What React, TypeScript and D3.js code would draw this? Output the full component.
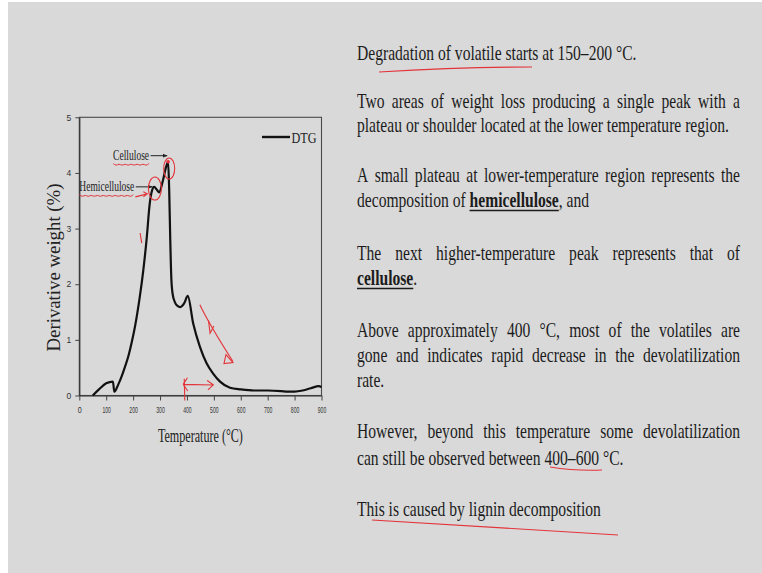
import React, { useEffect, useRef } from "react";
import * as d3 from "d3";

// DTG curve (temperature in °C, derivative weight in %)
const temps = [50, 75, 100, 125, 130, 145, 157, 170, 182, 195, 207, 225, 238, 250, 262, 270, 278, 288, 297, 310, 322, 330, 334, 338, 342, 347, 355, 365, 375, 390, 403, 423, 448, 473, 498, 523, 560, 600, 650, 700, 750, 775, 800, 830, 860, 890, 900];
const dtg = [0, 0.12, 0.22, 0.25, 0.07, 0.2, 0.34, 0.52, 0.7, 0.96, 1.24, 1.78, 2.26, 2.8, 3.46, 3.68, 3.75, 3.7, 3.65, 3.85, 4.1, 4.2, 3.7, 2.8, 2.1, 1.82, 1.68, 1.61, 1.59, 1.66, 1.79, 1.3, 0.88, 0.58, 0.39, 0.25, 0.14, 0.11, 0.09, 0.09, 0.08, 0.07, 0.07, 0.09, 0.13, 0.17, 0.15];

const xTicks = [0, 100, 200, 300, 400, 500, 600, 700, 800, 900];
const yTicks = [0, 1, 2, 3, 4, 5];
const seriesName = "DTG";
const xTitle = "Temperature (°C)";
const yTitle = "Derivative weight (%)";

// peak call-outs
const peakNames = ["Cellulose", "Hemicellulose"];
const peakTemps = [330, 275];
const peakValues = [4.31, 3.75];
const peakLabelWidths = [36, 55];

// slide text (words wrapped in *...* are bold + underlined)
const textLines = [
  "Degradation of volatile starts at 150–200 °C.",
  "Two areas of weight loss producing a single peak with a",
  "plateau or shoulder located at the lower temperature region.",
  "A small plateau at lower-temperature region represents the",
  "decomposition of *hemicellulose*, and",
  "The next higher-temperature peak represents that of",
  "*cellulose*.",
  "Above approximately 400 °C, most of the volatiles are",
  "gone and indicates rapid decrease in the devolatilization",
  "rate.",
  "However, beyond this temperature some devolatilization",
  "can still be observed between 400–600 °C.",
  "This is caused by lignin decomposition",
];
const justified = [false, true, false, true, false, true, false, true, true, false, true, false, false];
const baselines = [60, 108, 132, 182, 207, 260, 285, 337, 362, 387, 438, 465, 516];

const SERIF = "'Liberation Serif', 'Times New Roman', serif";
const SANS = "'Liberation Sans', Arial, sans-serif";
const RED = "#e3343a";

const App = () => {
  const svgRef = useRef<SVGSVGElement>(null);

  useEffect(() => {
    const svg = d3.select(svgRef.current);
    svg.selectAll("*").remove();

    const width = 762;
    const height = 573;
    const plot = { left: 79.3, right: 321.5, top: 117.3, bottom: 395.5 };

    svg.append("rect").attr("width", width).attr("height", height).attr("fill", "#fff");
    svg.append("rect").attr("x", 8).attr("y", 2).attr("width", width - 8).attr("height", height - 2).attr("fill", "#d9d9d9");

    const x = d3.scaleLinear().domain([0, 900]).range([plot.left, plot.right]);
    const y = d3.scaleLinear().domain([0, 5]).range([plot.bottom, plot.top]);

    // frame
    svg.append("rect")
      .attr("x", plot.left).attr("y", plot.top)
      .attr("width", plot.right - plot.left).attr("height", plot.bottom - plot.top)
      .attr("fill", "none").attr("stroke", "#4a4a4a").attr("stroke-width", 1.1);

    const xAxis = svg.append("g").attr("transform", `translate(0,${plot.bottom})`)
      .call(d3.axisBottom(x).tickValues(xTicks).tickFormat(d3.format("d")).tickSize(5).tickSizeOuter(0).tickPadding(6));
    xAxis.selectAll("text")
      .attr("font-family", SANS).attr("font-size", 9.5).attr("fill", "#333")
      .attr("lengthAdjust", "spacingAndGlyphs")
      .attr("textLength", (d: any) => (String(d).length === 1 ? 4 : 8.5));

    const yAxis = svg.append("g").attr("transform", `translate(${plot.left},0)`)
      .call(d3.axisLeft(y).tickValues(yTicks).tickFormat(d3.format("d")).tickSize(4).tickSizeOuter(0).tickPadding(4));
    yAxis.selectAll("text").attr("font-family", SANS).attr("font-size", 8.5).attr("fill", "#333");

    [xAxis, yAxis].forEach(a => {
      a.select(".domain").attr("stroke", "#333").attr("stroke-width", 1.2);
      a.selectAll(".tick line").attr("stroke", "#444");
    });

    svg.append("text")
      .attr("x", (plot.left + plot.right) / 2).attr("y", 442)
      .attr("text-anchor", "middle").attr("font-family", SERIF).attr("font-size", 18).attr("fill", "#222")
      .attr("textLength", 85).attr("lengthAdjust", "spacingAndGlyphs")
      .text(xTitle);

    svg.append("text")
      .attr("transform", "translate(60,267.5) rotate(-90)")
      .attr("text-anchor", "middle").attr("font-family", SERIF).attr("font-size", 19).attr("fill", "#222")
      .attr("textLength", 168).attr("lengthAdjust", "spacingAndGlyphs")
      .text(yTitle);

    // curve
    const line = d3.line<number>()
      .x((_, i) => x(temps[i]))
      .y(d => y(d))
      .curve(d3.curveMonotoneX);

    svg.append("path")
      .datum(dtg)
      .attr("fill", "none")
      .attr("stroke", "#111")
      .attr("stroke-width", 2.2)
      .attr("stroke-linejoin", "round")
      .attr("d", line);

    // legend
    svg.append("line").attr("x1", 262).attr("x2", 290).attr("y1", 137).attr("y2", 137)
      .attr("stroke", "#111").attr("stroke-width", 2.4);
    svg.append("text").attr("x", 291.5).attr("y", 142.5)
      .attr("font-family", SERIF).attr("font-size", 15).attr("fill", "#222")
      .attr("textLength", 25).attr("lengthAdjust", "spacingAndGlyphs")
      .text(seriesName);

    // peak labels with arrows
    const defs = svg.append("defs");
    defs.append("marker").attr("id", "ah").attr("viewBox", "0 0 10 10")
      .attr("refX", 9).attr("refY", 5).attr("markerWidth", 5).attr("markerHeight", 5)
      .attr("orient", "auto")
      .append("path").attr("d", "M0,1 L10,5 L0,9 z").attr("fill", "#222");

    const wavy = (x0: number, x1: number, yy: number) => {
      const pts: [number, number][] = [];
      for (let k = 0, px = x0; px <= x1; k++, px += 3) pts.push([px, yy + (k % 2 ? 1.3 : -1.3)]);
      return d3.line().curve(d3.curveBasis)(pts);
    };

    peakNames.forEach((name, i) => {
      const ex = x(peakTemps[i]) - 1;
      const ey = y(peakValues[i]);
      const tx = ex - 18;
      svg.append("line").attr("x1", tx + 1.5).attr("x2", ex).attr("y1", ey).attr("y2", ey)
        .attr("stroke", "#222").attr("stroke-width", 1).attr("marker-end", "url(#ah)");
      svg.append("text").attr("x", tx).attr("y", ey + 4).attr("text-anchor", "end")
        .attr("font-family", SERIF).attr("font-size", 14).attr("fill", "#222")
        .attr("textLength", peakLabelWidths[i]).attr("lengthAdjust", "spacingAndGlyphs")
        .text(name);
      svg.append("path").attr("d", wavy(tx - peakLabelWidths[i], tx, ey + 9))
        .attr("fill", "none").attr("stroke", RED).attr("stroke-width", 1);
    });

    // red pen marks on the chart
    const ink = svg.append("g").attr("fill", "none").attr("stroke", RED).attr("stroke-width", 1.1);
    ink.append("ellipse").attr("cx", x(281)).attr("cy", y(3.72)).attr("rx", 6.5).attr("ry", 11.5);
    ink.append("ellipse").attr("cx", x(334)).attr("cy", y(4.08)).attr("rx", 5.5).attr("ry", 10.5);
    svg.append("circle").attr("cx", x(330)).attr("cy", y(4.2)).attr("r", 1.8).attr("fill", RED);
    ink.append("path").attr("d", `M${x(226)},${y(2.92)} L${x(232)},${y(2.74)}`);
    const hx = x(275) - 16, hy = y(3.75) + 8;
    ink.append("path").attr("d", `M${hx - 2},${hy + 2} L${hx + 10},${hy - 1} M${hx + 6},${hy - 3} L${hx + 10},${hy - 1} L${hx + 6},${hy + 2}`);
    const a0 = [x(448), y(1.63)], a1 = [x(571), y(0.61)];
    ink.append("path").attr("d", `M${a0[0]},${a0[1]} Q${x(480)},${y(1.3)} ${a1[0]},${a1[1]}`);
    ink.append("path").attr("d", `M${x(480)},${y(1.35)} L${x(486)},${y(1.12)} L${x(500)},${y(1.25)}`);
    ink.append("path").attr("d", `M${a1[0] - 7},${a1[1] - 7} L${a1[0]},${a1[1] + 1} L${a1[0] - 9},${a1[1] + 2} Z`);
    ink.append("path").attr("d", `M${x(390)},${y(0.3)} L${x(392)},${plot.bottom + 5}`);
    ink.append("path").attr("d", `M${x(386)},${y(0.2)} L${x(498)},${y(0.19)} M${x(475)},${y(0.27)} L${x(498)},${y(0.19)} L${x(478)},${y(0.1)} M${x(386)},${y(0.2)} L${x(402)},${y(0.32)} M${x(386)},${y(0.2)} L${x(403)},${y(0.08)}`);

    // slide text, laid out as compressed justified lines
    const block = svg.append("g").attr("fill", "#1c1c1c");
    const probe = block.append("text").attr("font-family", SERIF).attr("font-size", 20).text(textLines[2]);
    const sx = (1.025 * 363) / (probe.node() as SVGTextElement).getComputedTextLength();
    probe.remove();

    textLines.forEach((ln, i) => {
      const row = block.append("g").attr("transform", `translate(357,${baselines[i]}) scale(${sx},1)`);
      const words = ln.split(" ").map(w => {
        const wg = row.append("g");
        let cx = 0;
        w.split(/(\*[^*]+\*)/).filter(Boolean).forEach(p => {
          const bold = p.startsWith("*");
          const t = bold ? p.slice(1, -1) : p;
          const el = wg.append("text").attr("x", cx)
            .attr("font-family", SERIF).attr("font-size", 20)
            .attr("font-weight", bold ? "bold" : "normal").text(t);
          const tw = (el.node() as SVGTextElement).getComputedTextLength();
          if (bold) {
            wg.append("line").attr("x1", cx).attr("x2", cx + tw).attr("y1", 3.5).attr("y2", 3.5)
              .attr("stroke", "#1c1c1c").attr("stroke-width", 1.6);
          }
          cx += tw;
        });
        return { g: wg, w: cx };
      });
      const total = d3.sum(words, d => d.w);
      const gap = justified[i] && words.length > 1 ? (383 / sx - total) / (words.length - 1) : 5;
      let cx = 0;
      words.forEach(d => {
        d.g.attr("transform", `translate(${cx},0)`);
        cx += d.w + gap;
      });
    });

    // red underlines on the slide text
    const pen = svg.append("g").attr("fill", "none").attr("stroke", RED).attr("stroke-width", 1.1);
    pen.append("path").attr("d", "M379,72 Q460,67 532,67");
    pen.append("path").attr("d", "M550,467 Q575,471 602,470");
    pen.append("path").attr("d", "M372,520 Q500,528 618,535");
  }, []);

  return (
    <svg
      ref={svgRef}
      width="762"
      height="573"
      style={{ position: "absolute", left: 0, top: 0, display: "block" }}
    ></svg>
  );
};

export default App;
